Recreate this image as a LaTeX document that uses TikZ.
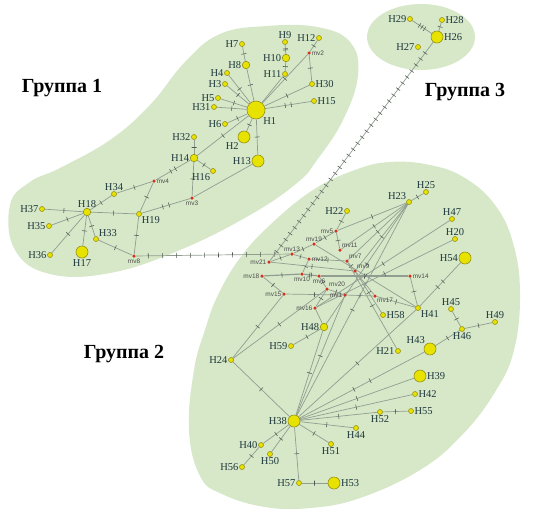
\documentclass[tikz,border=0pt]{standalone}
\usepackage{fontspec}
\setmainfont{Liberation Serif}
\newfontfamily\mvfont{Liberation Sans}
\pgfdeclarelayer{blob}
\pgfdeclarelayer{edges}
\pgfsetlayers{blob,edges,main}
\definecolor{blobg}{RGB}{214,232,200}
\definecolor{hapfill}{RGB}{232,226,0}
\definecolor{hapdraw}{RGB}{150,145,20}
\definecolor{edgec}{RGB}{145,157,145}
\definecolor{tickc}{RGB}{80,88,80}
\definecolor{labc}{RGB}{30,55,60}
\definecolor{mvred}{RGB}{210,50,30}
\tikzset{
  hap/.style={circle, fill=hapfill, draw=hapdraw, line width=0.6pt, inner sep=0pt},
  hs/.style={minimum size=5pt},
  hm/.style={minimum size=7.5pt},
  hl/.style={minimum size=12pt},
  hx/.style={minimum size=18pt},
  lab/.style={font=\fontsize{10.5}{12}\selectfont, text=labc, inner sep=0.6pt},
  mvs/.style={circle, fill=mvred, inner sep=0pt, minimum size=3.5pt},
  mlab/.style={font=\mvfont\fontsize{6.5}{7}\selectfont, text=black!70, inner sep=0.6pt},
  edge/.style={draw=edgec, line width=0.7pt},
  thickedge/.style={draw=edgec, line width=1.2pt},
  tk/.style={draw=tickc, line width=0.55pt, sloped, rectangle, inner sep=0pt, minimum width=0pt, minimum height=5pt},
  grp/.style={font=\bfseries\fontsize{20}{23}\selectfont, text=black},
  blobfill/.style={fill=blobg, draw=none}
}
\newcommand\HapN[4]{\node[hap,#3,label={[lab]#4:#1}] (#1) at (#2) {};}
\newcommand\MvN[3]{\node[mvs,label={[mlab]#3:#1}] (#1) at (#2) {};}
\newcommand\EdG[3]{\draw[edge] (#1) -- (#2);\ifnum#3>0 \foreach \k in {1,...,#3}{\pgfmathsetmacro\pp{0.5+(\k-(#3+1)/2)*0.13}\path (#1) -- (#2) node[tk,pos=\pp]{};}\fi}
\newcommand\EdT[3]{\draw[thickedge] (#1) -- (#2);\ifnum#3>0 \foreach \k in {1,...,#3}{\pgfmathsetmacro\pp{0.5+(\k-(#3+1)/2)*0.13}\path (#1) -- (#2) node[tk,pos=\pp]{};}\fi}
\newcommand\EdL[5]{\draw[edge] (#1) -- (#2);\foreach \k in {1,...,#3}{\pgfmathsetmacro\pp{#4+(\k-1)*(#5-#4)/(#3-1)}\path (#1) -- (#2) node[tk,pos=\pp]{};}}
\begin{document}
\begin{tikzpicture}[x=1pt,y=-1pt]
\useasboundingbox (0,0) rectangle (534,515);
\begin{pgfonlayer}{blob}
\fill[white] (0,0) rectangle (534,515);
\fill[blobfill] plot[smooth cycle, tension=0.7] coordinates {(10,205) (30,182) (60,168) (110,140) (150,105) (185,62) (220,34) (267,26) (317,27) (350,42) (358,75) (343,120) (317,160) (297,183) (250,215) (180,250) (110,273) (50,274) (15,250)};
\fill[blobfill] (421,37) ellipse [x radius=54, y radius=33];
\fill[blobfill] plot[smooth cycle, tension=0.7] coordinates {(205,330) (218,295) (240,258) (270,225) (313,190) (355,170) (390,162) (430,165) (465,178) (495,205) (513,243) (520,293) (514,350) (495,392) (462,435) (420,470) (360,498) (310,508) (265,507) (222,494) (200,476) (189,430) (194,370)};
\end{pgfonlayer}
% group labels
\node[grp] (g1) at (62,88) {Группа 1};
\node[grp] (g2) at (124,354) {Группа 2};
\node[grp] (g3) at (465,92) {Группа 3};
% group 1
\HapN{H1}{256,110}{hx}{below right}
\HapN{H2}{244,137}{hl}{below left}
\HapN{H13}{258,161}{hl}{left}
\HapN{H7}{242,44}{hs}{left}
\HapN{H8}{246,65}{hm}{left}
\HapN{H4}{227,73}{hs}{left}
\HapN{H3}{225,84}{hs}{left}
\HapN{H5}{218,98}{hs}{left}
\HapN{H31}{214,107}{hs}{left}
\HapN{H6}{225,124}{hs}{left}
\HapN{H9}{285,42}{hs}{above}
\HapN{H10}{286,58}{hm}{left}
\HapN{H11}{285,74}{hs}{left}
\HapN{H12}{319,38}{hs}{left}
\MvN{mv2}{309,53}{right}
\HapN{H30}{312,84}{hs}{right}
\HapN{H15}{314,101}{hs}{right}
\HapN{H32}{194,137}{hs}{left}
\HapN{H14}{194,158}{hm}{left}
\HapN{H16}{213,171}{hs}{below left}
\MvN{mv4}{154,181}{right}
\HapN{H34}{114,194}{hs}{above}
\HapN{H19}{139,214}{hs}{below right}
\MvN{mv3}{192,198}{below}
\HapN{H18}{87,212}{hm}{above}
\HapN{H37}{42,209}{hs}{left}
\HapN{H35}{49,226}{hs}{left}
\HapN{H36}{50,255}{hs}{left}
\HapN{H17}{82,252}{hl}{below}
\HapN{H33}{96,239}{hs}{above right}
\MvN{mv8}{134,256}{below}
% group 3
\HapN{H26}{437,37}{hl}{right}
\HapN{H28}{442,20}{hs}{right}
\HapN{H29}{410,19}{hs}{left}
\HapN{H27}{418,47}{hs}{left}
% group 2
\HapN{H22}{347,211}{hs}{left}
\HapN{H23}{409,202}{hs}{above left}
\HapN{H25}{426,192}{hs}{above}
\HapN{H47}{452,219}{hs}{above}
\HapN{H20}{455,239}{hs}{above}
\HapN{H54}{465,258}{hl}{left}
\HapN{H45}{451,309}{hs}{above}
\HapN{H46}{462,329}{hs}{below}
\HapN{H49}{495,322}{hs}{above}
\HapN{H43}{430,349}{hl}{above left}
\HapN{H21}{398,351}{hs}{left}
\HapN{H58}{383,315}{hs}{right}
\HapN{H41}{418,308}{hs}{below right}
\HapN{H39}{420,376}{hl}{right}
\HapN{H42}{415,394}{hs}{right}
\HapN{H55}{411,411}{hs}{right}
\HapN{H52}{380,412}{hs}{below}
\HapN{H44}{356,428}{hs}{below}
\HapN{H48}{324,327}{hm}{left}
\HapN{H59}{291,346}{hs}{left}
\HapN{H24}{231,360}{hs}{left}
\HapN{H38}{294,421}{hl}{left}
\HapN{H40}{261,445}{hs}{left}
\HapN{H56}{242,467}{hs}{left}
\HapN{H50}{270,454}{hs}{below}
\HapN{H51}{331,444}{hs}{below}
\HapN{H57}{299,483}{hs}{left}
\HapN{H53}{334,483}{hl}{right}
\MvN{mv5}{336,231}{left}
\MvN{mv19}{314,244}{above}
\MvN{mv13}{292,254}{above}
\MvN{mv11}{340,250}{above right}
\MvN{mv12}{309,259}{right}
\MvN{mv7}{347,261}{above right}
\MvN{mv9}{355,271}{above right}
\MvN{mv21}{269,262}{left}
\MvN{mv10}{302,274}{below}
\MvN{mv6}{319,276}{below}
\MvN{mv18}{262,276}{left}
\MvN{mv14}{410,276}{right}
\MvN{mv20}{327,289}{above right}
\MvN{mv1}{345,295}{left}
\MvN{mv17}{375,296}{below right}
\MvN{mv15}{284,294}{left}
\MvN{mv16}{315,308}{left}
\begin{pgfonlayer}{edges}
% group 1
\EdG{H7}{H8}{1}
\EdG{H8}{H1}{1}
\EdG{H4}{H1}{1}
\EdG{H3}{H1}{1}
\EdG{H5}{H1}{1}
\EdG{H31}{H1}{1}
\EdG{H6}{H1}{1}
\EdG{H2}{H1}{1}
\EdG{H13}{H1}{1}
\EdG{H11}{H1}{0}
\EdG{H9}{H10}{2}
\EdG{H10}{H11}{1}
\EdG{H1}{mv2}{1}
\EdG{mv2}{H12}{1}
\EdG{mv2}{H30}{1}
\EdG{H1}{H30}{1}
\EdG{H1}{H15}{2}
\EdG{H1}{H14}{1}
\EdG{H14}{H32}{1}
\EdG{H14}{H16}{1}
\EdG{H14}{mv3}{1}
\EdG{H14}{mv4}{2}
\EdG{mv4}{H34}{1}
\EdG{H34}{H18}{1}
\EdG{mv4}{H19}{1}
\EdG{H19}{H18}{1}
\EdG{H19}{mv3}{2}
\EdG{H19}{mv8}{1}
\EdG{mv3}{H13}{0}
\EdG{H18}{H37}{1}
\EdG{H18}{H35}{1}
\EdG{H18}{H36}{1}
\EdG{H18}{H17}{1}
\EdG{H18}{H33}{1}
\EdG{H33}{mv8}{1}
\EdL{mv8}{mv13}{10}{0.08}{0.9}
% group 3
\EdG{H26}{H28}{1}
\EdG{H26}{H29}{3}
\EdL{H26}{mv21}{34}{0.05}{0.96}
% group 2
\EdG{H22}{mv5}{1}
\EdG{mv5}{H23}{1}
\EdG{H23}{H25}{1}
\EdG{H23}{mv11}{1}
\EdG{H23}{mv7}{1}
\EdG{H23}{mv9}{1}
\EdG{H23}{H48}{1}
\EdG{H23}{H38}{1}
\EdG{mv5}{mv19}{1}
\EdG{mv5}{mv11}{1}
\EdG{mv19}{mv13}{1}
\EdG{mv13}{mv21}{1}
\EdG{mv13}{mv12}{1}
\EdG{mv12}{mv7}{1}
\EdG{mv7}{mv9}{1}
\EdG{mv12}{mv10}{1}
\EdG{mv21}{mv9}{1}
\EdT{mv18}{mv10}{1}
\EdT{mv10}{mv6}{2}
\EdT{mv6}{mv14}{1}
\EdG{mv6}{mv20}{1}
\EdG{mv20}{mv1}{1}
\EdG{mv15}{mv1}{1}
\EdG{mv1}{mv17}{1}
\EdG{mv17}{H41}{1}
\EdG{mv9}{mv17}{1}
\EdG{mv14}{H41}{1}
\EdG{H41}{H54}{2}
\EdG{mv16}{mv20}{1}
\EdG{mv16}{H48}{0}
\EdG{mv16}{H47}{1}
\EdG{mv16}{H20}{1}
\EdG{mv18}{mv15}{1}
\EdG{mv15}{H24}{1}
\EdG{H24}{mv20}{1}
\EdG{H24}{H38}{1}
\EdG{H48}{H59}{1}
\EdG{H48}{H38}{1}
\EdG{H38}{H41}{1}
\EdG{H38}{mv1}{1}
\EdG{H38}{H43}{2}
\EdG{H43}{H46}{1}
\EdG{H46}{H45}{1}
\EdG{H46}{H49}{1}
\EdG{H38}{H39}{1}
\EdG{H38}{H42}{1}
\EdG{H38}{H52}{1}
\EdG{H52}{H55}{1}
\EdG{H38}{H44}{1}
\EdG{H38}{H51}{1}
\EdG{H38}{H57}{1}
\EdG{H57}{H53}{1}
\EdG{H38}{H40}{1}
\EdG{H40}{H56}{1}
\EdG{H38}{H50}{1}
\EdG{H21}{mv7}{1}
\EdG{H58}{mv9}{1}
\EdG{mv19}{H41}{1}
\end{pgfonlayer}
\end{tikzpicture}
\end{document}
